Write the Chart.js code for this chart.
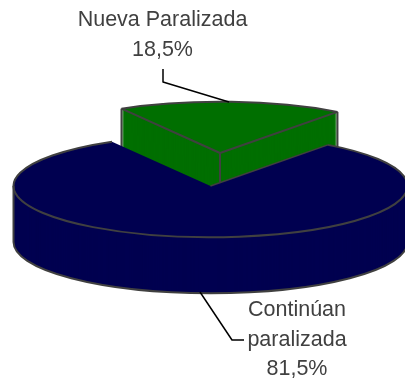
<!DOCTYPE html>
<html><head><meta charset="utf-8">
<script src="https://cdn.jsdelivr.net/npm/chart.js@4"></script>
<style>html,body{margin:0;padding:0;background:#fff}canvas{display:block}</style>
</head><body><canvas id="c" width="405" height="379"></canvas>
<script>
const categories = ['Nueva Paralizada', 'Continúan paralizada'];
const values = [18.5, 81.5];
const sliceColors = ['#006f00', '#000050'];
const labelLines = [['Nueva Paralizada', '18,5%'], ['Continúan', 'paralizada', '81,5%']];

const TILT = 0.26, DEPTH = 56, EDGE = '#404040', LW = 2;
const EXPLODE = [{dx: 9.5, dy: -33}, {dx: 0, dy: 0}];
const LABEL_POS = [{x: 162.5, y: [20, 50]}, {x: 297, y: [310, 340, 369]}];
const LEADERS = [[[163, 69], [163, 82], [229, 102]], [[200, 292], [232, 340], [244, 340]]];

function transformFor(ctx, arc, i, d) {
  ctx.translate(arc.x + EXPLODE[i].dx, arc.y + EXPLODE[i].dy + d);
  ctx.scale(1, TILT);
  ctx.translate(-arc.x, -arc.y);
}
function pt(arc, i, ang, d) {
  return [arc.x + EXPLODE[i].dx + Math.cos(ang) * arc.outerRadius,
          arc.y + EXPLODE[i].dy + d + Math.sin(ang) * arc.outerRadius * TILT];
}
function line(ctx, a, b) { ctx.beginPath(); ctx.moveTo(a[0], a[1]); ctx.lineTo(b[0], b[1]); ctx.stroke(); }
function arcPath(ctx, arc, i, d, s, e) {
  ctx.save(); transformFor(ctx, arc, i, d);
  ctx.beginPath(); ctx.arc(arc.x, arc.y, arc.outerRadius, s, e);
  ctx.restore();
}

const pie3d = {
  id: 'pie3d',
  beforeDatasetsDraw(chart) {
    const ctx = chart.ctx, arcs = chart.getDatasetMeta(0).data;
    ctx.save();
    ctx.strokeStyle = EDGE; ctx.lineWidth = LW; ctx.lineJoin = 'round';
    // green slice, behind
    const g = arcs[0], gc = [g.x + EXPLODE[0].dx, g.y + EXPLODE[0].dy];
    for (let d = DEPTH; d >= 0; d--) { ctx.save(); transformFor(ctx, g, 0, d); g.draw(ctx); ctx.restore(); }
    line(ctx, pt(g, 0, g.startAngle, 0), pt(g, 0, g.startAngle, DEPTH));
    line(ctx, pt(g, 0, g.endAngle, 0), pt(g, 0, g.endAngle, DEPTH));
    line(ctx, gc, [gc[0], gc[1] + DEPTH]);
    arcPath(ctx, g, 0, 0, g.startAngle, g.endAngle); ctx.stroke();
    line(ctx, gc, pt(g, 0, g.startAngle, 0));
    line(ctx, gc, pt(g, 0, g.endAngle, 0));
    // navy slice
    const n = arcs[1];
    for (let d = DEPTH; d >= 0; d--) { ctx.save(); transformFor(ctx, n, 1, d); n.draw(ctx); ctx.restore(); }
    const L = pt(n, 1, Math.PI, 0), R = pt(n, 1, 0, 0);
    line(ctx, L, [L[0], L[1] + DEPTH]);
    line(ctx, R, [R[0], R[1] + DEPTH]);
    arcPath(ctx, n, 1, DEPTH, 0, Math.PI); ctx.stroke();
    arcPath(ctx, n, 1, 0, n.startAngle, n.endAngle); ctx.stroke();
    ctx.lineWidth = 1.4;
    line(ctx, [n.x, n.y], pt(n, 1, n.startAngle, 0));
    // leaders
    ctx.strokeStyle = '#000'; ctx.lineWidth = 1.5;
    LEADERS.forEach(p => { ctx.beginPath(); p.forEach((q, k) => k ? ctx.lineTo(q[0], q[1]) : ctx.moveTo(q[0], q[1])); ctx.stroke(); });
    // labels
    ctx.fillStyle = '#404040'; ctx.font = '21.5px "Liberation Sans"';
    ctx.textAlign = 'center'; ctx.textBaseline = 'middle';
    labelLines.forEach((ls, i) => ls.forEach((t, k) => ctx.fillText(t, LABEL_POS[i].x, LABEL_POS[i].y[k])));
    ctx.restore();
    return false;
  }
};

new Chart(document.getElementById('c'), {
  type: 'pie',
  data: { labels: categories, datasets: [{ data: values, backgroundColor: sliceColors, borderWidth: 0 }] },
  options: {
    responsive: false, animation: false, rotation: -30, radius: 197,
    layout: { padding: { left: 16, bottom: 7 } },
    plugins: { legend: { display: false }, tooltip: { enabled: false } }
  },
  plugins: [pie3d]
});
</script></body></html>
